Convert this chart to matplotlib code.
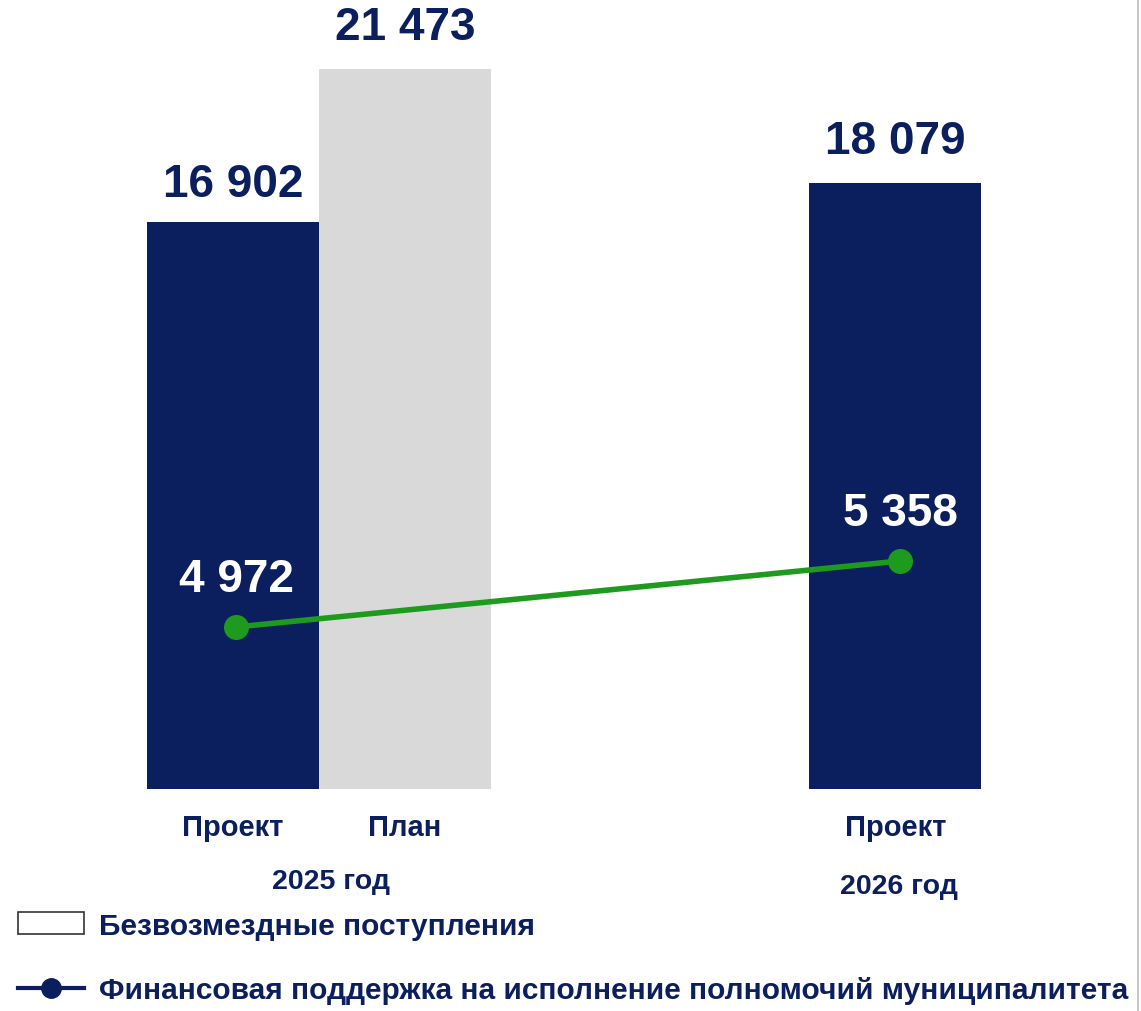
import matplotlib
matplotlib.use("Agg")
import matplotlib.pyplot as plt
from matplotlib.patches import Patch
from matplotlib.lines import Line2D
from matplotlib.transforms import blended_transform_factory

plt.rcParams['font.family'] = ['Liberation Sans', 'DejaVu Sans']

# data
bar_labels = ["Проект", "План", "Проект"]
bar_values = [16902, 21473, 18079]
bar_pos = [0, 1, 3.85]
bar_colors = ["#0b1f5e", "#d9d9d9", "#0b1f5e"]
group_labels = ["2025 год", "2026 год"]
group_pos = [0.57, 3.87]
line_pos = [0.02, 3.88]
line_values = [4972, 5358]
legend_labels = ["Безвозмездные поступления",
                 "Финансовая поддержка на исполнение полномочий муниципалитета"]

NAVY = "#0b1f5e"
GREEN = "#1e9a1e"

def fmt(v):
    return f"{v:,}".replace(",", " ")

fig = plt.figure(figsize=(11.41, 10.12), dpi=100)
ax = fig.add_axes([0.0836, 0.2194, 0.8442, 0.7609])
ax.set_xlim(-0.8, 4.8)
ax.set_ylim(0, 22964)

ax.bar(bar_pos, bar_values, width=1.0, color=bar_colors, zorder=1)
for x, v, off in zip(bar_pos, bar_values, [12, 14, 14]):
    ax.annotate(fmt(v), (x, v), xytext=(0, off), textcoords="offset points",
                ha="center", va="bottom", fontsize=33, fontweight="bold", color=NAVY)

ax.set_xticks(bar_pos)
ax.set_xticklabels(bar_labels, fontsize=21, fontweight="bold", color=NAVY)
ax.tick_params(axis="x", length=0, pad=17)
ax.set_yticks([])
for s in ax.spines.values():
    s.set_visible(False)

trans = blended_transform_factory(ax.transData, ax.transAxes)
for x, lab, dy in zip(group_pos, group_labels, [-0.12, -0.126]):
    ax.text(x, dy, lab, transform=trans, ha="center", va="center",
            fontsize=20.5, fontweight="bold", color=NAVY)

ax2 = ax.twinx()
ax2.set_ylim(4024.5, 8528)
ax2.plot(line_pos, line_values, color=GREEN, lw=4, marker="o", markersize=17, zorder=3)
for x, v in zip(line_pos, line_values):
    ax2.annotate(fmt(v), (x, v), xytext=(0, 19), textcoords="offset points",
                 ha="center", va="bottom", fontsize=33, fontweight="bold", color="white")
ax2.set_yticks([])
for s in ax2.spines.values():
    s.set_visible(False)

handles = [Patch(facecolor="white", edgecolor="#333333", linewidth=1.2),
           Line2D([0], [0], color=NAVY, lw=3, marker="o", markersize=14)]
fig.legend(handles, legend_labels, loc="lower left", bbox_to_anchor=(0.0, -0.011),
           frameon=False, prop={"size": 21.5, "weight": "bold"},
           labelcolor=NAVY, handlelength=2.2, handleheight=0.75, handletextpad=0.5,
           labelspacing=1.22, borderaxespad=0.2)

fig.add_artist(Line2D([0.9975, 0.9975], [0, 1], color="#bbbbbb", lw=1.2))

fig.savefig("out.png", dpi=100)
